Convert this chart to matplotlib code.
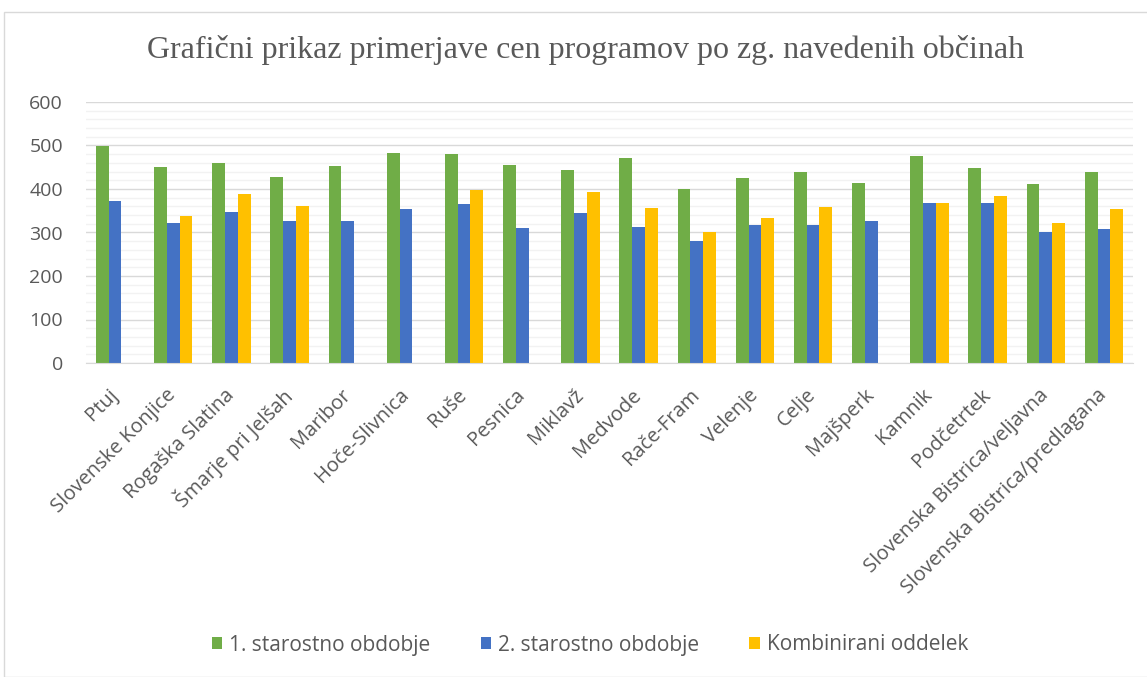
import matplotlib
matplotlib.use("Agg")
import matplotlib.pyplot as plt
import numpy as np
from matplotlib.patches import Rectangle
from matplotlib.transforms import ScaledTranslation

categories = ["Ptuj", "Slovenske Konjice", "Rogaška Slatina", "Šmarje pri Jelšah", "Maribor",
              "Hoče-Slivnica", "Ruše", "Pesnica", "Miklavž", "Medvode", "Rače-Fram", "Velenje",
              "Celje", "Majšperk", "Kamnik", "Podčetrtek", "Slovenska Bistrica/veljavna",
              "Slovenska Bistrica/predlagana"]
s1 = [498, 450, 460, 427, 453, 482, 480, 456, 444, 472, 401, 426, 439, 414, 475, 448, 411, 439]
s2 = [372, 321, 348, 327, 326, 353, 365, 311, 344, 313, 281, 317, 317, 326, 368, 368, 300, 308]
s3 = [np.nan, 339, 389, 360, np.nan, np.nan, 397, np.nan, 394, 357, 301, 334, 358, np.nan, 368, 385, 321, 355]
series_names = ["1. starostno obdobje", "2. starostno obdobje", "Kombinirani oddelek"]
colors = ["#70ad47", "#4472c4", "#ffc000"]

W, H = 1147, 677
fig = plt.figure(figsize=(W/100, H/100), dpi=100)
fig.patches.append(Rectangle((3.5/W, 0.5/H), 1 - 3.5/W + 0.01, 1 - 12.5/H, transform=fig.transFigure,
                             fill=False, edgecolor="#d9d9d9", linewidth=1))
ax = fig.add_axes([86/W, 1 - 363/H, (1133-86)/W, (363-102)/H])

x = np.arange(len(categories))
bw = 0.22
for i, (vals, c, n) in enumerate(zip([s1, s2, s3], colors, series_names)):
    ax.bar(x + (i-1)*bw, vals, bw, color=c, label=n, zorder=3)

ax.set_xlim(-0.5, len(categories)-0.5)
ax.set_ylim(0, 600)
ax.set_yticks(np.arange(0, 601, 100))
ax.set_yticks(np.arange(0, 601, 20), minor=True)
ax.grid(axis="y", which="major", color="#d9d9d9", linewidth=1, zorder=0)
ax.grid(axis="y", which="minor", color="#f2f2f2", linewidth=1, zorder=0)
for s in ["top", "right", "left"]:
    ax.spines[s].set_visible(False)
ax.spines["bottom"].set_color("#d9d9d9")
ax.spines["bottom"].set_zorder(4)
ax.tick_params(axis="both", which="both", length=0, colors="#595959")
ax.set_xticks(x)
ax.set_xticklabels(categories, rotation=45, ha="right", va="center", rotation_mode="anchor",
                   fontsize=14.5, family="Open Sans", color="#595959")
off = ScaledTranslation(9/100, 0, fig.dpi_scale_trans)
for lab in ax.get_xticklabels():
    lab.set_transform(lab.get_transform() + off)
for lab in ax.get_yticklabels():
    lab.set_fontsize(14); lab.set_family("Open Sans")
ax.tick_params(axis="y", pad=16.5)
ax.tick_params(axis="x", pad=21)

fig.text(586/W, 1 - 50/H, "Grafični prikaz primerjave cen programov po zg. navedenih občinah",
         ha="center", va="center", fontsize=23, family="Liberation Serif", color="#595959")

leg = fig.legend(loc="center", bbox_to_anchor=(590/W, 1 - 645/H), ncol=3, frameon=False,
                 prop={"family": "Open Sans", "size": 15}, handlelength=0.5, handleheight=0.5,
                 columnspacing=2.4, handletextpad=0.35)
for t in leg.get_texts():
    t.set_color("#595959")

fig.savefig("out.png", dpi=100)
